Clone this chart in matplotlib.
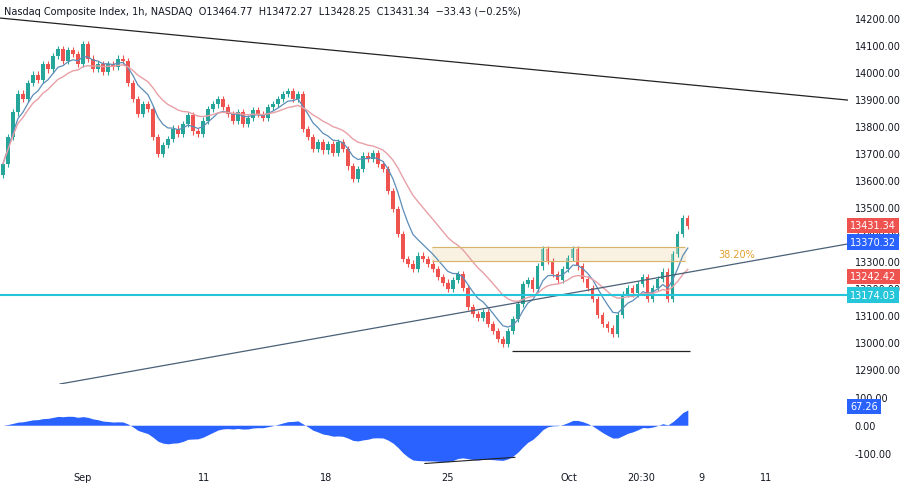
import numpy as np
import pandas as pd
import matplotlib
matplotlib.use("Agg")
import matplotlib.pyplot as plt
from matplotlib.transforms import blended_transform_factory as btf

closes = [13660,13760,13850,13920,13900,13960,13990,13970,14030,14010,14060,14085,14040,14080,14067,14030,14104,14050,14011,14030,
14000,14030,14020,14050,14041,13960,13900,13844,13880,13863,13760,13696,13730,13752,13790,13770,13807,13840,13780,13770,
13820,13863,13880,13900,13870,13844,13820,13850,13807,13830,13860,13844,13830,13870,13881,13900,13919,13930,13900,13919,
13789,13760,13715,13740,13710,13733,13700,13740,13715,13650,13604,13640,13690,13678,13700,13660,13641,13560,13493,13400,
13307,13290,13270,13320,13307,13290,13270,13240,13220,13196,13230,13252,13200,13130,13104,13090,13110,13067,13040,13010,
12993,13040,13085,13140,13215,13230,13196,13280,13344,13300,13252,13230,13270,13310,13344,13280,13233,13200,13159,13100,
13067,13050,13030,13100,13178,13200,13180,13215,13240,13159,13200,13233,13260,13159,13326,13400,13460,13431]
first_open = 13620
tick_pos = [16, 40.2, 64.6, 89, 113.2, 127.6, 139.8, 152.6]
tick_lab = ["Sep", "11", "18", "25", "Oct", "20:30", "9", "11"]

UP, DN = "#26a69a", "#ef5350"
c = np.array(closes, float)
o = np.concatenate([[first_open], c[:-1]])
x = np.arange(len(c))

fig = plt.figure(figsize=(9, 4.89), dpi=100)
ax = fig.add_axes([0.0, 0.2127, 0.942, 0.787])
ax2 = fig.add_axes([0.0, 0.049, 0.942, 0.157], sharex=ax)

for i in x:
    col = UP if c[i] >= o[i] else DN
    hi, lo = max(o[i], c[i]) + 12, min(o[i], c[i]) - 12
    ax.vlines(i, lo, hi, color=col, lw=0.8)
    ax.bar(i, max(abs(c[i]-o[i]), 3), bottom=min(o[i], c[i]), width=0.65, color=col)

s = pd.Series(c)
ax.plot(x, s.ewm(span=7).mean(), color="#5b8db8", lw=0.9)
ax.plot(x, s.ewm(span=18).mean(), color="#e8a0a6", lw=1.0)

ax.plot([-0.6, 169], [14200, 13896], color="#222222", lw=0.9)
ax.plot([11.4, 169], [12844, 13363], color="#4a6078", lw=0.9)
ax.axhline(13174, color="#26c6da", lw=1.5)
ax.fill_between([85.8, 136.4], 13300, 13352, color="#f5e6c8", alpha=0.5)
ax.hlines([13300, 13352], 85.8, 136.4, color="#d9b56b", lw=0.8)
ax.text(143, 13326, "38.20%", color="#e0a030", fontsize=7, va="center")
ax.hlines(12967, 101.8, 137.4, color="#222222", lw=0.9)

ax.set_xlim(-0.6, 169)
ax.set_ylim(12844, 14270)
ax.yaxis.tick_right()
ax.set_yticks(np.arange(12900, 14201, 100))
ax.set_yticklabels([f"{v:.2f}" for v in np.arange(12900, 14201, 100)])
ax.tick_params(axis="y", length=0, labelsize=7, colors="#131722", pad=5)
ax.tick_params(axis="x", bottom=False, labelbottom=False)
for sp in ax.spines.values():
    sp.set_visible(False)

tr = btf(ax.transAxes, ax.transData)
for val, bg in [(13431.34, DN), (13370.32, "#2962ff"), (13242.42, DN), (13174.03, "#26c6da")]:
    ax.text(1.003, val, f"{val:.2f}", transform=tr, fontsize=7, color="white", va="center",
            zorder=20, clip_on=False,
            bbox=dict(boxstyle="square,pad=0.3", fc=bg, ec="none"))
ax.set_axisbelow(True)
for lab in ax.get_yticklabels():
    lab.set_zorder(1)

osc = (s.ewm(span=10).mean() - s.ewm(span=24).mean()) * 0.9
ax2.fill_between(x, 0, osc, color="#2962ff", lw=0)
ax2.plot([84.4, 102.4], [-137, -115], color="#222222", lw=0.8)
ax2.set_ylim(-139, 136)
ax2.yaxis.tick_right()
ax2.set_yticks([100, 0, -100])
ax2.set_yticklabels(["100.00", "0.00", "-100.00"])
ax2.tick_params(axis="y", length=0, labelsize=7, colors="#131722", pad=5)
ax2.set_xticks(tick_pos)
ax2.set_xticklabels(tick_lab)
ax2.tick_params(axis="x", length=0, labelsize=7, colors="#131722", pad=6)
for sp in ax2.spines.values():
    sp.set_visible(False)
tr2 = btf(ax2.transAxes, ax2.transData)
ax2.text(1.003, 67.26, "67.26", transform=tr2, fontsize=7, color="white", va="center",
         zorder=20, clip_on=False,
         bbox=dict(boxstyle="square,pad=0.3", fc="#2962ff", ec="none"))

fig.text(0.005, 0.985, "Nasdaq Composite Index, 1h, NASDAQ  O13464.77  H13472.27  L13428.25  C13431.34  −33.43 (−0.25%)",
         fontsize=7, color="#131722", va="top")
fig.savefig("out.png", dpi=100)
